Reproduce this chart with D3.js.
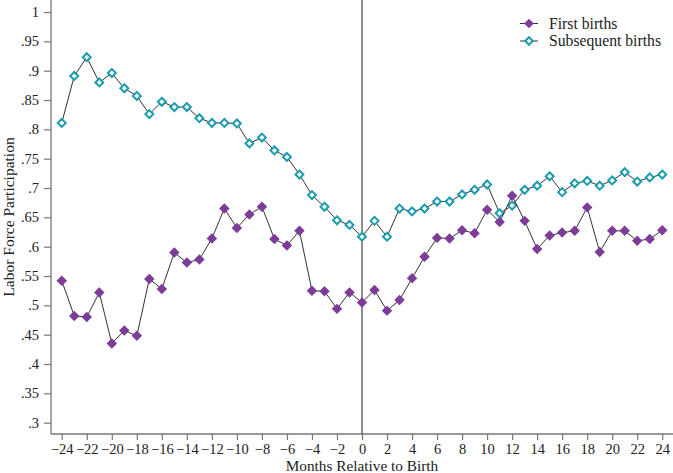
<!DOCTYPE html>
<html>
<head>
<meta charset="utf-8">
<script src="https://cdn.jsdelivr.net/npm/d3@7"></script>
<style>
  html, body { margin: 0; padding: 0; background: #fff; }
  svg { display: block; }
  text { font-family: "Liberation Serif", "DejaVu Serif", serif; fill: #222; }
</style>
</head>
<body>
<svg id="chart" width="673" height="473"></svg>
<script>
const months = d3.range(-24, 25);
const firstBirths = [
  0.542, 0.482, 0.480, 0.522, 0.435, 0.457, 0.448, 0.545, 0.528, 0.590,
  0.573, 0.578, 0.614, 0.665, 0.632, 0.655, 0.668, 0.613, 0.602, 0.627,
  0.525, 0.524, 0.494, 0.522, 0.505, 0.526, 0.491, 0.509, 0.546, 0.583,
  0.615, 0.614, 0.628, 0.623, 0.663, 0.642, 0.687, 0.644, 0.596, 0.619,
  0.624, 0.627, 0.667, 0.591, 0.627, 0.627, 0.610, 0.613, 0.628
];
const subsequentBirths = [
  0.811, 0.891, 0.923, 0.880, 0.896, 0.870, 0.857, 0.826, 0.847, 0.838,
  0.838, 0.819, 0.811, 0.811, 0.810, 0.776, 0.786, 0.764, 0.753, 0.723,
  0.688, 0.668, 0.645, 0.637, 0.617, 0.644, 0.617, 0.665, 0.660, 0.665,
  0.677, 0.677, 0.689, 0.697, 0.706, 0.657, 0.670, 0.697, 0.704, 0.720,
  0.693, 0.708, 0.712, 0.704, 0.713, 0.727, 0.711, 0.718, 0.723
];
const yTicks = [0.3, 0.35, 0.4, 0.45, 0.5, 0.55, 0.6, 0.65, 0.7, 0.75, 0.8, 0.85, 0.9, 0.95, 1];
const xTicks = d3.range(-24, 25, 2);
const seriesNames = ["First births", "Subsequent births"];
const colors = ["#7d3c98", "#1a9cb0"];

const svg = d3.select("#chart");
const mLeft = 51, mRight = 673, mTop = 0, mBottom = 434;

const x = d3.scaleLinear().domain([-24.86, 24.86]).range([mLeft, mRight]);
const y = d3.scaleLinear().domain([0.2807, 1.0205]).range([mBottom, mTop]);

const fmt = v => v === 1 ? "1" : d3.format(".2~f")(v).replace(/^0/, "");

// Y axis
const yAxis = svg.append("g").attr("transform", `translate(${mLeft},0)`)
  .call(d3.axisLeft(y).tickValues(yTicks).tickSize(7).tickPadding(5).tickFormat(fmt));
yAxis.select(".domain").attr("stroke", "#777").attr("stroke-width", 1.3).attr("d", `M0,${mTop}V${mBottom}`);
yAxis.selectAll(".tick line").attr("stroke", "#777").attr("stroke-width", 1.2);
yAxis.selectAll(".tick text").attr("font-size", 14.5).attr("fill", "#222")
  .style("font-family", "'Liberation Serif', serif");

// X axis
const xAxis = svg.append("g").attr("transform", `translate(0,${mBottom})`)
  .call(d3.axisBottom(x).tickValues(xTicks).tickSize(6).tickPadding(4)
    .tickFormat(d => d < 0 ? "\u2212" + Math.abs(d) : String(d)));
xAxis.select(".domain").attr("stroke", "#777").attr("stroke-width", 1.3).attr("d", `M${mLeft},0H${mRight}`);
xAxis.selectAll(".tick line").attr("stroke", "#777").attr("stroke-width", 1.2);
xAxis.selectAll(".tick text").attr("font-size", 14.5).attr("fill", "#222")
  .style("font-family", "'Liberation Serif', serif");

// Axis titles
svg.append("text").attr("x", x(0)).attr("y", 471).attr("text-anchor", "middle")
  .attr("font-size", 15.3).text("Months Relative to Birth");
svg.append("text").attr("transform", `translate(14,${(mTop + mBottom) / 2}) rotate(-90)`)
  .attr("text-anchor", "middle").attr("font-size", 15.5).text("Labor Force Participation");

// Vertical line at 0
svg.append("line").attr("x1", x(0)).attr("x2", x(0)).attr("y1", mTop).attr("y2", mBottom)
  .attr("stroke", "#444").attr("stroke-width", 1.2);

const line = d3.line().x((d, i) => x(months[i])).y(d => y(d));
const diamond = d3.symbol().type(d3.symbolDiamond2);

// Subsequent births
svg.append("path").datum(subsequentBirths).attr("d", line)
  .attr("fill", "none").attr("stroke", "#333").attr("stroke-width", 1);
svg.append("g").selectAll("path").data(subsequentBirths).join("path")
  .attr("transform", (d, i) => `translate(${x(months[i])},${y(d)})`)
  .attr("d", diamond.size(40)).attr("fill", "#fff").attr("stroke", colors[1]).attr("stroke-width", 2);

// First births
svg.append("path").datum(firstBirths).attr("d", line)
  .attr("fill", "none").attr("stroke", "#333").attr("stroke-width", 1);
svg.append("g").selectAll("path").data(firstBirths).join("path")
  .attr("transform", (d, i) => `translate(${x(months[i])},${y(d)})`)
  .attr("d", diamond.size(70)).attr("fill", colors[0]);

// Legend
const legend = svg.append("g");
[0, 1].forEach(i => {
  const ly = 23.5 + i * 17.5;
  legend.append("line").attr("x1", 520).attr("x2", 538).attr("y1", ly).attr("y2", ly)
    .attr("stroke", "#333").attr("stroke-width", 1);
  if (i === 0) {
    legend.append("path").attr("transform", `translate(529,${ly})`).attr("d", diamond.size(60)).attr("fill", colors[0]);
  } else {
    legend.append("path").attr("transform", `translate(529,${ly})`).attr("d", diamond.size(36))
      .attr("fill", "#fff").attr("stroke", colors[1]).attr("stroke-width", 2);
  }
  legend.append("text").attr("x", 549).attr("y", ly + 5).attr("font-size", 15.7).text(seriesNames[i]);
});
</script>
</body>
</html>
